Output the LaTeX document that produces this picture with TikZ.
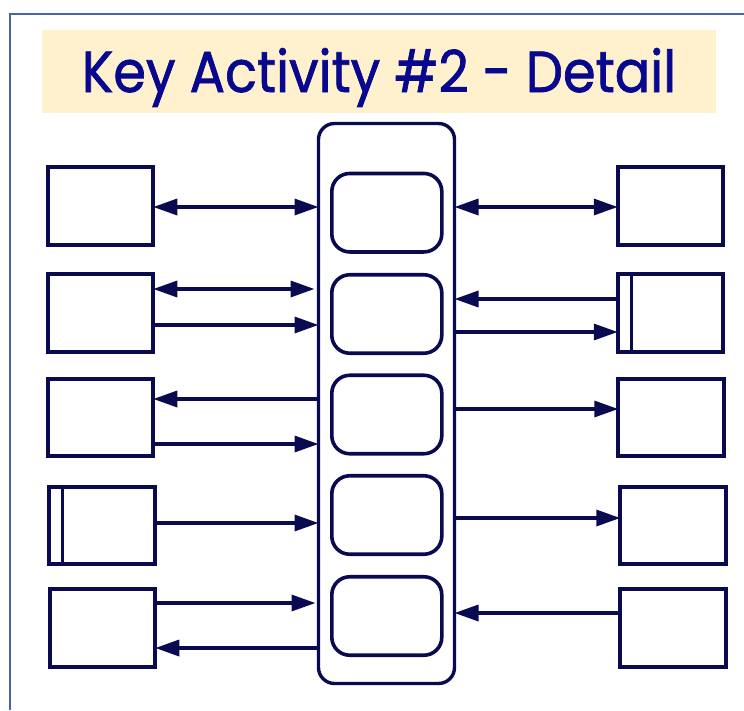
\documentclass[tikz,border=0pt]{standalone}
\usepackage{fontspec}
\newfontfamily\titlefont[FakeBold=1.3]{Poppins}
\usetikzlibrary{arrows.meta}
\definecolor{ink}{HTML}{0A0A50}
\definecolor{titleblue}{HTML}{08088F}
\definecolor{framecol}{HTML}{4766A6}
\definecolor{beige}{HTML}{FFF1CE}
\begin{document}
\begin{tikzpicture}[x=1pt,y=-1pt,
  box/.style={draw=ink, line width=3.8pt, minimum width=105.5pt, minimum height=77.5pt, inner sep=0pt, outer sep=0pt},
  act/.style={draw=ink, line width=3.6pt, rounded corners=18pt, minimum width=110pt, minimum height=78.5pt, inner sep=0pt, outer sep=0pt},
  column/.style={draw=ink, line width=3.4pt, rounded corners=16pt, minimum width=136pt, minimum height=560pt, inner sep=0pt, outer sep=0pt},
  tipA/.tip={Triangle[length=24pt,width=16pt]},
  arr/.style={draw=ink, line width=3.4pt, -tipA},
  darr/.style={draw=ink, line width=3.4pt, tipA-tipA},
  bar/.style={draw=ink, line width=3.4pt}]
\useasboundingbox (0,0) rectangle (744,710);
% frame
\draw[framecol, line width=2.2pt] (10,710) -- (10,14) -- (744,14);
% title
\fill[beige] (42,30) rectangle (716,113);
\node[anchor=base, text=titleblue, inner sep=0pt] (title) at (379,92)
  {\resizebox{594pt}{44pt}{\titlefont Key Activity \#2 - Detail}};
% central column
\node[column] (C) at (386.5,403.5) {};
\node[act] (A1) at (386.8,212.7) {};
\node[act] (A2) at (386.8,314) {};
\node[act] (A3) at (386.8,414.5) {};
\node[act] (A4) at (386.8,515) {};
\node[act] (A5) at (386.8,616) {};
% left boxes
\node[box] (L1) at (100.5,206) {};
\node[box] (L2) at (100.5,313) {};
\node[box] (L3) at (100.5,417.5) {};
\node[box] (L4) at (102,525.5) {};
\node[box] (L5) at (102.5,628) {};
% right boxes
\node[box] (R1) at (670.5,206) {};
\node[box] (R2) at (670.5,313) {};
\node[box] (R3) at (671,417.5) {};
\node[box] (R4) at (673,525.5) {};
\node[box] (R5) at (673,628) {};
% inner bars
\draw[bar] ([xshift=13.5pt]L4.north west) -- ([xshift=13.5pt]L4.south west);
\draw[bar] ([xshift=14pt]R2.north west) -- ([xshift=14pt]R2.south west);
% left connectors
\draw[darr] ([yshift=-1pt]L1.east) -- ([yshift=-1pt]L1.east -| C.west);
\draw[darr] ([yshift=24pt]L2.east) -- ([yshift=24pt,xshift=-4pt]L2.east -| C.west);
\draw[arr] ([yshift=-12pt]L2.east) -- ([yshift=-12pt]L2.east -| C.west);
\draw[arr] ([yshift=18.5pt]L3.east -| C.west) -- ([yshift=18.5pt]L3.east);
\draw[arr] ([yshift=-26.5pt]L3.east) -- ([yshift=-26.5pt]L3.east -| C.west);
\draw[arr] ([yshift=2.5pt]L4.east) -- ([yshift=2.5pt]L4.east -| C.west);
\draw[arr] ([yshift=25pt,xshift=-2pt]L5.east) -- ([yshift=25pt,xshift=-3pt]L5.east -| C.west);
\draw[arr] ([yshift=-20pt]L5.east -| C.west) -- ([yshift=-20pt]L5.east);
% right connectors
\draw[darr] ([yshift=-1pt]R1.west -| C.east) -- ([yshift=-1pt]R1.west);
\draw[arr] ([yshift=14pt]R2.west) -- ([yshift=14pt]R2.west -| C.east);
\draw[arr] ([yshift=-19pt]R2.west -| C.east) -- ([yshift=-19pt]R2.west);
\draw[arr] ([yshift=8.5pt]R3.west -| C.east) -- ([yshift=8.5pt]R3.west);
\draw[arr] ([yshift=7.5pt]R4.west -| C.east) -- ([yshift=7.5pt]R4.west);
\draw[arr] ([yshift=15pt]R5.west) -- ([yshift=15pt]R5.west -| C.east);
\end{tikzpicture}
\end{document}
